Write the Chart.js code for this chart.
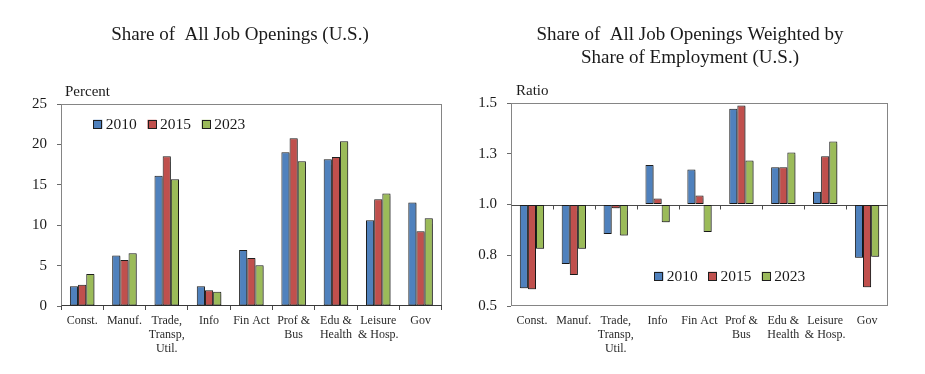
<!DOCTYPE html>
<html><head><meta charset="utf-8">
<script src="https://cdn.jsdelivr.net/npm/chart.js@4.4.1/dist/chart.umd.min.js"></script>
<style>
html,body{margin:0;padding:0;background:#fff;}
#wrap{position:relative;width:925px;height:374px;overflow:hidden;background:#fff;}
canvas{position:absolute;top:0;}
</style></head><body>
<div id="wrap">
<canvas id="left" width="462" height="374" style="left:0px"></canvas>
<canvas id="right" width="463" height="374" style="left:462px"></canvas>
</div>
<script>
// ---------- data ----------
const categories = [['Const.'],['Manuf.'],['Trade,','Transp,','Util.'],['Info'],['Fin Act'],['Prof &','Bus'],['Edu &','Health'],['Leisure','& Hosp.'],['Gov']];
const years = ['2010','2015','2023'];
const share2010 = [2.45, 6.26, 16.12, 2.45, 6.94, 19.03, 18.16, 10.62, 12.81];
const share2015 = [2.62, 5.70, 18.54, 1.95, 5.95, 20.75, 18.43, 13.22, 9.24];
const share2023 = [3.97, 6.53, 15.69, 1.76, 5.05, 17.91, 20.38, 13.92, 10.85];
const ratio2010 = [0.587, 0.707, 0.855, 1.194, 1.172, 1.472, 1.184, 1.063, 0.738];
const ratio2015 = [0.583, 0.653, 0.982, 1.030, 1.044, 1.488, 1.184, 1.238, 0.592];
const ratio2023 = [0.782, 0.782, 0.847, 0.912, 0.865, 1.217, 1.256, 1.310, 0.742];
const shareTicks = [0, 5, 10, 15, 20, 25];
const ratioTicks = [0.5, 0.75, 1.0, 1.25, 1.5];
const ratioBase = 1.0;
const leftTitle = ['Share of  All Job Openings (U.S.)'];
const rightTitle = ['Share of  All Job Openings Weighted by', 'Share of Employment (U.S.)'];
const leftUnit = 'Percent';
const rightUnit = 'Ratio';

// ---------- style ----------
const FONT = "'Liberation Serif', 'Times New Roman', serif";
const COLORS = ['#4F81BD', '#C0504D', '#9BBB59'];
const TEXT = '#1a1a1a';

const deco = {
  id: 'deco',
  beforeDatasetsDraw(chart, args, o) {
    const ctx = chart.ctx, a = chart.chartArea;
    const L = Math.round(a.left) + 0.5, T = Math.round(a.top) + 0.5;
    const R = Math.round(a.right) - 0.5, B = Math.round(a.bottom) - 0.5;
    ctx.save();
    ctx.lineWidth = 1;
    ctx.strokeStyle = '#858585';
    ctx.strokeRect(L, T, R - L, B - T);
    if (o.bottomColor) {
      ctx.strokeStyle = o.bottomColor;
      ctx.beginPath(); ctx.moveTo(L, B); ctx.lineTo(R + 0.5, B); ctx.stroke();
    }
    if (o.refValue != null) {
      const xs = chart.scales.x;
      const y = Math.round(chart.scales.y.getPixelForValue(o.refValue)) + 0.5;
      ctx.strokeStyle = '#4a4a4a';
      ctx.beginPath(); ctx.moveTo(L, y); ctx.lineTo(R, y); ctx.stroke();
      const n = chart.data.labels.length;
      ctx.beginPath();
      for (let i = 1; i < n; i++) {
        const x = Math.round(xs.left + i * xs.width / n) + 0.5;
        ctx.moveTo(x, y); ctx.lineTo(x, y + 4);
      }
      ctx.stroke();
    }
    ctx.restore();
    ctx.save();
    ctx.shadowColor = 'rgba(0,0,0,0.32)';
    ctx.shadowOffsetX = 1.2;
    ctx.shadowOffsetY = 1;
    ctx.shadowBlur = 1.2;
  },
  afterDatasetsDraw(chart, args, o) {
    const ctx = chart.ctx, a = chart.chartArea;
    ctx.restore();
    // legend
    ctx.save();
    ctx.font = '15.5px ' + FONT;
    ctx.textBaseline = 'middle';
    ctx.textAlign = 'left';
    chart.data.datasets.forEach((ds, i) => {
      const bx = a.left + o.legend.x + i * o.legend.gap;
      const by = a.top + o.legend.y;
      ctx.fillStyle = ds.backgroundColor;
      ctx.fillRect(bx, by - 4.5, 9, 9);
      ctx.strokeStyle = '#1e1e1e';
      ctx.lineWidth = 1;
      ctx.strokeRect(Math.round(bx) + 0.5, Math.round(by - 4.5) + 0.5, 8, 8);
      ctx.fillStyle = TEXT;
      ctx.fillText(ds.label, bx + 12.5, by + 0.5);
    });
    ctx.restore();
  },
  afterDraw(chart, args, o) {
    const ctx = chart.ctx, a = chart.chartArea;
    ctx.save();
    ctx.fillStyle = TEXT;
    ctx.textBaseline = 'middle';
    ctx.textAlign = 'center';
    ctx.font = '19px ' + FONT;
    o.title.forEach((t, i) => ctx.fillText(t, o.titleX, 35 + i * 23));
    ctx.textAlign = 'left';
    ctx.font = '15px ' + FONT;
    ctx.fillText(o.unit, a.left + o.unitDx, a.top - 11.5);
    ctx.restore();
  }
};

function build(id, cfg) {
  return new Chart(document.getElementById(id), {
    type: 'bar',
    data: {
      labels: categories,
      datasets: cfg.series.map((d, i) => {
        const ds = {
          label: years[i], data: d,
          backgroundColor: COLORS[i], borderColor: '#1e1e1e', borderWidth: 1,
          borderSkipped: false, categoryPercentage: 0.58, barPercentage: 1.0
        };
        if (cfg.base != null) ds.base = cfg.base;
        return ds;
      })
    },
    options: {
      responsive: false, animation: false, devicePixelRatio: 1,
      layout: { padding: { top: cfg.top, right: cfg.right, left: 0, bottom: 0 } },
      plugins: {
        legend: { display: false }, tooltip: { enabled: false },
        deco: { title: cfg.title, titleX: cfg.titleX, unit: cfg.unit, unitDx: cfg.unitDx,
                legend: cfg.legend, refValue: cfg.base, bottomColor: cfg.bottomColor }
      },
      scales: {
        x: {
          grid: cfg.xGrid,
          border: { display: false },
          ticks: { font: { family: FONT, size: 12, lineHeight: 14 / 12 }, color: '#2a2a2a',
                   padding: cfg.xPad, maxRotation: 0, autoSkip: false },
          afterFit: s => { s.height = 68; }
        },
        y: {
          min: cfg.min, max: cfg.max,
          afterBuildTicks: s => { s.ticks = cfg.ticks.map(v => ({ value: v })); },
          ticks: { font: { family: FONT, size: 15 }, color: TEXT, padding: 10,
                   callback: cfg.fmt },
          grid: { drawOnChartArea: false, drawTicks: true, tickLength: 4, color: '#6a6a6a' },
          border: { display: false },
          afterFit: s => { s.width = cfg.yw; }
        }
      }
    },
    plugins: [deco]
  });
}

build('left', {
  series: [share2010, share2015, share2023],
  min: 0, max: 25, ticks: shareTicks, fmt: v => String(v),
  top: 104, right: 20.3, yw: 61,
  title: leftTitle, titleX: 240, unit: leftUnit, unitDx: 4,
  legend: { x: 32.3, y: 20.3, gap: 54.2 },
  bottomColor: '#3a3a3a',
  xGrid: { display: true, drawOnChartArea: false, drawTicks: true, tickLength: 4, offset: true, color: '#4a4a4a' },
  xPad: 4
});

build('right', {
  series: [ratio2010, ratio2015, ratio2023],
  base: ratioBase,
  min: 0.5, max: 1.5, ticks: ratioTicks, fmt: v => Number(v).toFixed(1),
  top: 103, right: 37, yw: 49,
  title: rightTitle, titleX: 228, unit: rightUnit, unitDx: 5,
  legend: { x: 143.3, y: 173.3, gap: 53.7 },
  bottomColor: null,
  xGrid: { display: false, drawTicks: false },
  xPad: 8
});
</script>
</body></html>
